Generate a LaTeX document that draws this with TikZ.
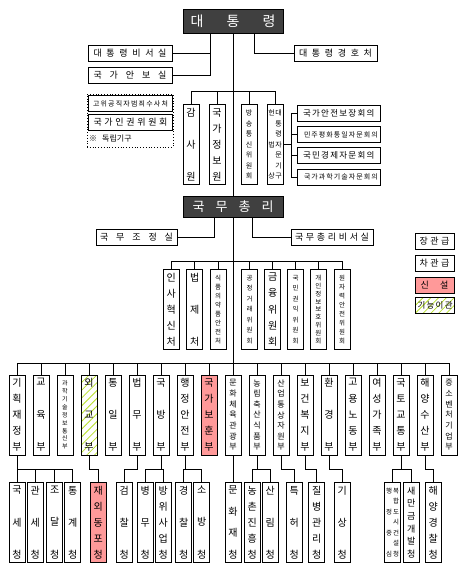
\documentclass[tikz,border=0pt]{standalone}
\usepackage{fontspec}
\setmainfont{Noto Sans CJK KR}
\usetikzlibrary{patterns.meta,calc}
\definecolor{dkc}{HTML}{404040}
\definecolor{newc}{HTML}{FF9999}
\definecolor{hatchc}{HTML}{B8E02A}
\newcommand\vcol[3]{\parbox[c][\dimexpr 62pt+#1pt\relax][s]{#3}{\centering\fontsize{#1pt}{#1pt}\selectfont
\foreach \vchar [count=\vi] in {#2}{\ifnum\vi>1 \vfill\fi\vchar\par}}}
\newcommand\vst[2]{\vcol{#1}{#2}{15pt}}
\newcommand\vsttwo[3]{\vcol{#1}{#2}{7pt}\vcol{#1}{#3}{7pt}}
\newcommand\hsp[3]{\fontsize{#2pt}{#2pt}\selectfont\makebox[#1pt][s]{#3}}
\tikzset{
 bx/.style={draw, line width=0.9pt, inner sep=0pt, text=black},
 hb/.style={bx, minimum height=15.5pt},
 vb/.style={bx, minimum width=16pt, minimum height=80pt},
 dkbox/.style={draw, line width=0.9pt, fill=dkc, text=white, inner sep=0pt},
 nw/.style={fill=newc},
 ht/.style={pattern={Lines[angle=45,distance=5.5pt,line width=0.8pt]}, pattern color=hatchc},
 ln/.style={line width=0.8pt},
}
\begin{document}
\begin{tikzpicture}[x=1pt,y=-1pt]
\fill[white] (0,0) rectangle (467,573);
\useasboundingbox (0,0) rectangle (467,573);
% president
\node[dkbox, minimum width=100pt, minimum height=24pt] (pres) at (233,21) {\hsp{85}{14}{대 통 령}};
\node[hb, minimum width=84pt] (psec) at (130,53.5) {\hsp{73}{9}{대 통 령 비 서 실}};
\node[hb, minimum width=84pt] (nsa) at (130,75.5) {\hsp{73}{9}{국 가 안 보 실}};
\node[hb, minimum width=83pt] (pss) at (335.5,53.5) {\hsp{73}{9}{대 통 령 경 호 처}};
\node[draw, dotted, line width=0.8pt, minimum width=86pt, minimum height=53pt, inner sep=0pt] (indep) at (130,120.5) {};
\node[hb, minimum width=84.5pt, minimum height=16.5pt] (cio) at (130.5,103.5) {\hsp{75}{7}{고 위 공 직 자 범 죄 수 사 처}};
\node[hb, minimum width=84.5pt, minimum height=16.5pt] (nhrc) at (130.5,122.5) {\hsp{74}{9}{국 가 인 권 위 원 회}};
\node[anchor=west, inner sep=0pt] (indepl) at (89,139) {\fontsize{8pt}{8pt}\selectfont ※\hspace{5pt}독립기구};
% row 1
\node[vb] (bai) at (191,144.5) {\vst{10}{감,사,원}};
\node[vb] (nis) at (217,144.5) {\vst{10}{국,가,정,보,원}};
\node[vb] (kcc) at (249,144.5) {\vst{7}{방,송,통,신,위,원,회}};
\node[vb] (adv) at (275,144.5) {\vsttwo{7}{헌,법,상}{대,통,령,자,문,기,구}};
\node[hb, minimum width=83pt] (c1) at (338.5,113.5) {\hsp{71}{8.5}{국 가 안 전 보 장 회 의}};
\node[hb, minimum width=83pt] (c2) at (338.5,134.5) {\hsp{69}{7}{민 주 평 화 통 일 자 문 회 의}};
\node[hb, minimum width=83pt] (c3) at (338.5,155.5) {\hsp{71}{8.5}{국 민 경 제 자 문 회 의}};
\node[hb, minimum width=83pt, minimum height=16pt] (c4) at (338.5,177) {\hsp{69}{7}{국 가 과 학 기 술 자 문 회 의}};
% prime minister
\node[dkbox, minimum width=100pt, minimum height=21pt] (pm) at (233,206.5) {\hsp{81}{13}{국 무 총 리}};
\node[hb, minimum width=81pt, minimum height=16pt] (opm) at (136.5,237) {\hsp{73}{9}{국 무 조 정 실}};
\node[hb, minimum width=82pt, minimum height=16pt] (pmsec) at (332,237) {\hsp{74}{9}{국 무 총 리 비 서 실}};
% legend
\node[hb, minimum width=39pt, minimum height=16pt] (lg1) at (434.5,241) {\hsp{30}{9}{장 관 급}};
\node[hb, minimum width=39pt, minimum height=16pt] (lg2) at (434.5,263.5) {\hsp{30}{9}{차 관 급}};
\node[hb, nw, minimum width=39pt, minimum height=16pt] (lg3) at (434.5,285) {\hsp{28}{9}{신 설}};
\node[hb, ht, minimum width=39pt, minimum height=16.5pt] (lg4) at (434.5,305.5) {\hsp{34}{8.5}{기 능 이 관}};
% row 2
\node[vb] (mpm) at (171.3,309.5) {\vst{10}{인,사,혁,신,처}};
\node[vb] (moleg) at (194.7,309.5) {\vst{10}{법,제,처}};
\node[vb] (mfds) at (218,309.5) {\vst{6.5}{식,품,의,약,품,안,전,처}};
\node[vb] (ftc) at (249.7,309.5) {\vst{6.5}{공,정,거,래,위,원,회}};
\node[vb] (fsc) at (272.7,309.5) {\vst{10}{금,융,위,원,회}};
\node[vb] (acrc) at (295.5,309.5) {\vst{6.5}{국,민,권,익,위,원,회}};
\node[vb] (pipc) at (318.3,309.5) {\vst{6.5}{개,인,정,보,보,호,위,원,회}};
\node[vb] (nssc) at (342,309.5) {\vst{6.5}{원,자,력,안,전,위,원,회}};
% row 3 ministries
\node[vb] (moef) at (17,415) {\vst{10}{기,획,재,정,부}};
\node[vb] (moe) at (41,415) {\vst{10}{교,육,부}};
\node[vb] (msit) at (65,415) {\vst{6}{과,학,기,술,정,보,통,신,부}};
\node[vb, ht] (mofa) at (89,415) {\vst{10}{외,교,부}};
\node[vb] (mou) at (113,415) {\vst{10}{통,일,부}};
\node[vb] (moj) at (137,415) {\vst{10}{법,무,부}};
\node[vb] (mnd) at (161,415) {\vst{10}{국,방,부}};
\node[vb] (mois) at (185,415) {\vst{10}{행,정,안,전,부}};
\node[vb, nw] (mpva) at (209,415) {\vst{10}{국,가,보,훈,부}};
\node[vb] (mcst) at (233,415) {\vst{8}{문,화,체,육,관,광,부}};
\node[vb] (mafra) at (257,415) {\vst{8}{농,림,축,산,식,품,부}};
\node[vb] (motie) at (281,415) {\vst{8}{산,업,통,상,자,원,부}};
\node[vb] (mohw) at (305,415) {\vst{10}{보,건,복,지,부}};
\node[vb] (me) at (329,415) {\vst{10}{환,경,부}};
\node[vb] (moel) at (353,415) {\vst{10}{고,용,노,동,부}};
\node[vb] (mogef) at (377,415) {\vst{10}{여,성,가,족,부}};
\node[vb] (molit) at (401,415) {\vst{10}{국,토,교,통,부}};
\node[vb] (mof) at (425,415) {\vst{10}{해,양,수,산,부}};
\node[vb] (mss) at (449,415) {\vst{8}{중,소,벤,처,기,업,부}};
% row 4 agencies
\node[vb] (nts) at (17,522.5) {\vst{10}{국,세,청}};
\node[vb] (kcs) at (35.3,522.5) {\vst{10}{관,세,청}};
\node[vb] (pps) at (54.7,522.5) {\vst{10}{조,달,청}};
\node[vb] (kostat) at (72.7,522.5) {\vst{10}{통,계,청}};
\node[vb, nw] (oka) at (98.3,522.5) {\vst{10}{재,외,동,포,청}};
\node[vb] (spo) at (124.3,522.5) {\vst{10}{검,찰,청}};
\node[vb] (mma) at (145.3,522.5) {\vst{10}{병,무,청}};
\node[vb] (dapa) at (163.3,522.5) {\vst{10}{방,위,사,업,청}};
\node[vb] (knpa) at (183.7,522.5) {\vst{10}{경,찰,청}};
\node[vb] (nfa) at (201.7,522.5) {\vst{10}{소,방,청}};
\node[vb] (cha) at (233,522.5) {\vst{10}{문,화,재,청}};
\node[vb] (rda) at (252.3,522.5) {\vst{10}{농,촌,진,흥,청}};
\node[vb] (kfs) at (270.3,522.5) {\vst{10}{산,림,청}};
\node[vb] (kipo) at (294.3,522.5) {\vst{10}{특,허,청}};
\node[vb] (kdca) at (316.7,522.5) {\vst{10}{질,병,관,리,청}};
\node[vb] (kma) at (342.3,522.5) {\vst{10}{기,상,청}};
\node[vb] (macc) at (392.7,522.5) {\vsttwo{6.5}{행,정,중,심}{복,합,도,시,건,설,청}};
\node[vb] (saem) at (411.3,522.5) {\vst{9}{새,만,금,개,발,청}};
\node[vb] (kcg) at (433.3,522.5) {\vst{10}{해,양,경,찰,청}};
% junctions
\coordinate (j1) at (233,91);
\coordinate (j2) at (233,261);
\coordinate (j3) at (233,363.3);
\coordinate (j4) at (233,469.5);
\coordinate (jb) at (291,144.5);
% connectors president
\draw[ln] (pres.south) -- (pm.north);
\draw[ln] ([xshift=-23pt]pres.south) |- (psec.east);
\draw[ln] ([xshift=-23pt]pres.south) |- (nsa.east);
\draw[ln] ([xshift=21pt]pres.south) |- (pss.west);
\draw[ln] (bai.north) |- (adv.north |- j1) -- (adv.north);
\draw[ln] (nis.north) -- (nis.north |- j1);
\draw[ln] (kcc.north) -- (kcc.north |- j1);
\draw[ln] (adv.east) -- (adv.east -| jb);
\draw[ln] (c1.west -| jb) -- (c4.west -| jb);
\foreach \cn in {c1,c2,c3,c4} \draw[ln] (\cn.west -| jb) -- (\cn.west);
% prime minister
\draw[ln] (pm.south) -- (mcst.north);
\draw[ln] ([xshift=-19pt]pm.south) |- (opm.east);
\draw[ln] ([xshift=19pt]pm.south) |- (pmsec.west);
\draw[ln] (mpm.north) |- (nssc.north |- j2) -- (nssc.north);
\foreach \cn in {moleg,mfds,ftc,fsc,acrc,pipc} \draw[ln] (\cn.north) -- (\cn.north |- j2);
\draw[ln] (moef.north) |- (mss.north |- j3) -- (mss.north);
\foreach \cn in {moe,msit,mofa,mou,moj,mnd,mois,mpva,mafra,motie,mohw,me,moel,mogef,molit,mof} \draw[ln] (\cn.north) -- (\cn.north |- j3);
% agencies
\draw[ln] (moef.south) -- (nts.north);
\draw[ln] (nts.north |- j4) -- (kostat.north |- j4) -- (kostat.north);
\draw[ln] (kcs.north) -- (kcs.north |- j4);
\draw[ln] (pps.north) -- (pps.north |- j4);
\draw[ln] (mofa.south) |- (oka.north |- j4) -- (oka.north);
\draw[ln] (moj.south) |- (spo.north |- j4) -- (spo.north);
\draw[ln] (mnd.south) -- (mnd.south |- j4);
\draw[ln] (mma.north) |- (dapa.north |- j4) -- (dapa.north);
\draw[ln] (mois.south) -- (mois.south |- j4);
\draw[ln] (knpa.north) |- (nfa.north |- j4) -- (nfa.north);
\draw[ln] (mcst.south) -- (cha.north);
\draw[ln] (mafra.south) -- (mafra.south |- j4);
\draw[ln] (rda.north) |- (kfs.north |- j4) -- (kfs.north);
\draw[ln] (motie.south) |- (kipo.north |- j4) -- (kipo.north);
\draw[ln] (mohw.south) |- (kdca.north |- j4) -- (kdca.north);
\draw[ln] (me.south) |- (kma.north |- j4) -- (kma.north);
\draw[ln] (molit.south) -- (molit.south |- j4);
\draw[ln] (macc.north) |- (saem.north |- j4) -- (saem.north);
\draw[ln] (mof.south) |- (kcg.north |- j4) -- (kcg.north);
\end{tikzpicture}
\end{document}
